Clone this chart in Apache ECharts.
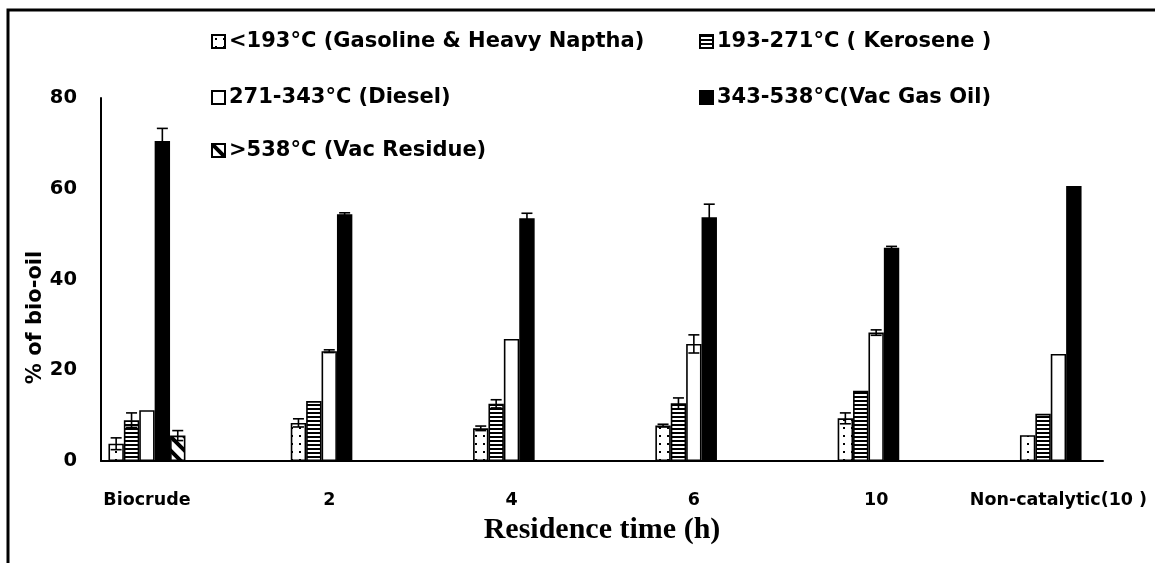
<!DOCTYPE html>
<html>
<head>
<meta charset="utf-8">
<script src="https://cdn.jsdelivr.net/npm/echarts@6/dist/echarts.min.js"></script>
<style>
html,body{margin:0;padding:0;background:#fff;}
#chart{width:1155px;height:563px;}
</style>
</head>
<body>
<div id="chart"></div>
<script>
// ---- data ----
const categories = ['Biocrude', '2', '4', '6', '10', 'Non-catalytic(10 )'];
const seriesNames = [
  '<193°C (Gasoline & Heavy Naptha)',
  '193-271°C ( Kerosene )',
  '271-343°C (Diesel)',
  '343-538°C(Vac Gas Oil)',
  '>538°C (Vac Residue)'
];
const gasoline    = [3.8, 8.4, 7.2, 7.8, 9.4, 5.7];
const gasolineErr = [1.3, 0.9, 0.5, 0.3, 1.2, 0];
const kerosene    = [9.0, 13.2, 12.6, 12.7, 15.5, 10.4];
const keroseneErr = [1.6, 0, 0.9, 1.2, 0, 0];
const diesel      = [11.2, 24.2, 26.9, 25.8, 28.3, 23.6];
const dieselErr   = [0, 0.3, 0, 2.0, 0.6, 0];
const vgo         = [70.5, 54.4, 53.5, 53.7, 47.0, 60.6];
const vgoErr      = [2.8, 0.3, 1.1, 2.9, 0.3, 0];
const residue     = [5.6, null, null, null, null, null];
const residueErr  = [1.1, 0, 0, 0, 0, 0];
const yTicks = [0, 20, 40, 60, 80];

// ---- patterns ----
function makeCanvas(w, h, draw) {
  const c = document.createElement('canvas');
  c.width = w; c.height = h;
  const ctx = c.getContext('2d');
  ctx.fillStyle = '#fff'; ctx.fillRect(0, 0, w, h);
  ctx.fillStyle = '#000'; ctx.strokeStyle = '#000';
  draw(ctx);
  return c;
}
const dotPattern = makeCanvas(8, 8, ctx => { ctx.fillRect(3, 3, 2, 2); });
const hStripePattern = makeCanvas(4, 4, ctx => { ctx.fillRect(0, 0, 4, 2); });
const diagPattern = makeCanvas(14, 14, ctx => {
  ctx.lineWidth = 4;
  ctx.beginPath();
  ctx.moveTo(-3, -3); ctx.lineTo(17, 17);
  ctx.moveTo(-3, 11); ctx.lineTo(3, 17);
  ctx.moveTo(11, -3); ctx.lineTo(17, 3);
  ctx.stroke();
});
const fills = [
  { image: dotPattern, repeat: 'repeat' },
  { image: hStripePattern, repeat: 'repeat' },
  '#ffffff',
  '#000000',
  { image: diagPattern, repeat: 'repeat' }
];
const values = [gasoline, kerosene, diesel, vgo, residue];
const errors = [gasolineErr, keroseneErr, dieselErr, vgoErr, residueErr];

const BAR_W = 15.4;
const labelFont = 'DejaVu Sans';

const barSeries = seriesNames.map((name, i) => ({
  name: name,
  type: 'bar',
  xAxisIndex: 0, yAxisIndex: 0,
  barWidth: BAR_W,
  barGap: '0%',
  data: values[i],
  itemStyle: { color: fills[i], borderColor: '#000', borderWidth: 1.6 },
  emphasis: { disabled: true },
  animation: false
}));

const errData = [];
values.forEach((arr, s) => {
  arr.forEach((v, c) => {
    if (v !== null && errors[s][c] > 0) errData.push([c, v, errors[s][c], s]);
  });
});

const errSeries = {
  type: 'custom',
  name: 'err',
  xAxisIndex: 0, yAxisIndex: 0,
  z: 5,
  animation: false,
  encode: { x: 0, y: 1 },
  data: errData,
  renderItem: function (params, api) {
    const c = api.value(0), v = api.value(1), e = api.value(2), s = api.value(3);
    const cx = api.coord([c, v])[0] + (s - 2) * BAR_W;
    const yT = api.coord([c, v + e])[1];
    const yB = api.coord([c, v - e])[1];
    const hw = 5.5;
    const st = { stroke: '#000', lineWidth: 1.6 };
    return {
      type: 'group',
      children: [
        { type: 'line', shape: { x1: cx, y1: yT, x2: cx, y2: yB }, style: st },
        { type: 'line', shape: { x1: cx - hw, y1: yT, x2: cx + hw, y2: yT }, style: st },
        { type: 'line', shape: { x1: cx - hw, y1: yB, x2: cx + hw, y2: yB }, style: st }
      ]
    };
  }
};

function legendAt(name, left, top) {
  return {
    data: [name],
    left: left, top: top,
    padding: 0,
    itemWidth: 13, itemHeight: 13,
    itemGap: 4,
    selectedMode: false,
    icon: 'rect',
    textStyle: { fontFamily: labelFont, fontWeight: 'bold', fontSize: 21, color: '#000', padding: [0, 0, 0, -1] }
  };
}

const chart = echarts.init(document.getElementById('chart'), null, { renderer: 'canvas' });
chart.setOption({
  backgroundColor: '#fff',
  animation: false,
  graphic: [{
    type: 'rect', silent: true, z: 100,
    shape: { x: 8, y: 10, width: 1200, height: 600 },
    style: { fill: 'none', stroke: '#000', lineWidth: 3 }
  }],
  legend: [
    legendAt(seriesNames[0], 211, 31),
    legendAt(seriesNames[1], 699, 31),
    legendAt(seriesNames[2], 211, 87),
    legendAt(seriesNames[3], 699, 87),
    legendAt(seriesNames[4], 211, 140)
  ],
  grid: [
    { left: 55.8, right: 5.4, top: 98, bottom: 102 },
    { left: 101, right: 52, top: 98, bottom: 102 }
  ],
  xAxis: [
    {
      type: 'category', gridIndex: 0, data: categories,
      axisLine: { show: false }, axisTick: { show: false },
      axisLabel: { interval: 0, color: '#000', fontFamily: labelFont, fontWeight: 'bold', fontSize: 17.5, margin: 30 }
    },
    {
      type: 'value', gridIndex: 1, min: 0, max: 1,
      axisLine: { show: true, lineStyle: { color: '#000', width: 2 } },
      axisTick: { show: false }, axisLabel: { show: false }, splitLine: { show: false },
      name: 'Residence time (h)', nameLocation: 'middle', nameGap: 54,
      nameTextStyle: { fontFamily: 'Liberation Serif', fontWeight: 'bold', fontSize: 30, color: '#000' }
    }
  ],
  yAxis: [
    { type: 'value', gridIndex: 0, min: 0, max: 80, interval: 20, show: false },
    {
      type: 'value', gridIndex: 1, min: yTicks[0], max: yTicks[yTicks.length - 1], interval: 20,
      axisLine: { show: true, lineStyle: { color: '#000', width: 2 } },
      axisTick: { show: false }, splitLine: { show: false },
      axisLabel: { color: '#000', fontFamily: labelFont, fontWeight: 'bold', fontSize: 19.5, margin: 24 },
      name: '% of bio-oil', nameLocation: 'middle', nameGap: 55, nameRotate: 90,
      nameMoveOverlap: false,
      nameTextStyle: { fontFamily: labelFont, fontWeight: 'bold', fontSize: 21, color: '#000', padding: [0, 76, 0, 0] }
    }
  ],
  series: barSeries.concat([errSeries])
});
</script>
</body>
</html>
